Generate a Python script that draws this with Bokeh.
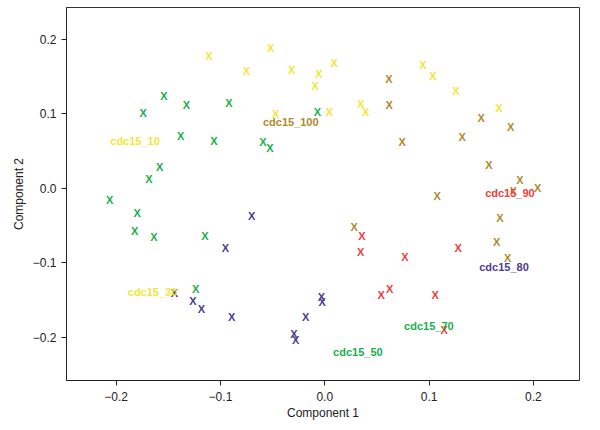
from bokeh.plotting import figure
from bokeh.models import ColumnDataSource, FixedTicker, Range1d
from bokeh.core.properties import value
from bokeh.embed import file_html
from bokeh.resources import INLINE

# ---- data ----
yellow_x = [-0.111, -0.0518, -0.0751, -0.0317, -0.0055, -0.0091, -0.047, 0.0089, 0.0045, 0.0345, 0.0391, 0.094, 0.1036, 0.1257, 0.167]
yellow_y = [0.178, 0.1885, 0.1568, 0.1582, 0.1537, 0.1378, 0.1003, 0.1679, 0.102, 0.1136, 0.1024, 0.1652, 0.1511, 0.131, 0.1078]

green_x = [-0.1542, -0.174, -0.1327, -0.0918, -0.007, -0.1382, -0.1062, -0.0592, -0.0525, -0.1583, -0.1686, -0.2063, -0.1798, -0.1823, -0.1638, -0.1149, -0.1238]
green_y = [0.1234, 0.1016, 0.1123, 0.115, 0.1023, 0.0703, 0.0632, 0.0619, 0.0535, 0.0289, 0.0124, -0.0163, -0.0337, -0.0571, -0.0651, -0.0638, -0.1346]

purple_x = [-0.0701, -0.0953, -0.1442, -0.1264, -0.1183, -0.0893, -0.0182, -0.0295, -0.0278, -0.0032, -0.0026]
purple_y = [-0.0377, -0.0794, -0.14, -0.1511, -0.1623, -0.1725, -0.1725, -0.1952, -0.2037, -0.1457, -0.1529]

red_x = [0.0355, 0.0343, 0.0768, 0.1279, 0.054, 0.0621, 0.1059, 0.1145]
red_y = [-0.0638, -0.0852, -0.0922, -0.0798, -0.1426, -0.1346, -0.1426, -0.1894]

gold_x = [0.0614, 0.0617, 0.0742, 0.1318, 0.15, 0.1782, 0.1574, 0.1871, 0.2041, 0.1807, 0.1078, 0.1679, 0.1648, 0.1753, 0.0281]
gold_y = [0.1471, 0.1123, 0.0623, 0.0686, 0.094, 0.0816, 0.0307, 0.0115, 0.0011, -0.004, -0.0099, -0.0404, -0.0718, -0.0936, -0.0513]

label_text = ["cdc15_10", "cdc15_100", "cdc15_30", "cdc15_50", "cdc15_70", "cdc15_80", "cdc15_90"]
label_x = [-0.1819, -0.0326, -0.1651, 0.0317, 0.0998, 0.1718, 0.1775]
label_y = [0.0636, 0.089, -0.1396, -0.2198, -0.1841, -0.1056, -0.0067]
label_color = ["#f2e63a", "#b08a2e", "#f2e63a", "#18b04c", "#18b04c", "#4b3b96", "#ee3d3d"]

tick_values = [-0.2, -0.1, 0.0, 0.1, 0.2]
tick_labels = ["\u22120.2", "\u22120.1", "0.0", "0.1", "0.2"]

series = [
    (yellow_x, yellow_y, "#f2e63a"),
    (green_x, green_y, "#18b04c"),
    (purple_x, purple_y, "#4b3b96"),
    (red_x, red_y, "#ee3d3d"),
    (gold_x, gold_y, "#b08a2e"),
]

FONT = "Liberation Sans"

p = figure(
    frame_width=513, frame_height=373,
    x_range=Range1d(-0.2476, 0.2442), y_range=Range1d(-0.2576, 0.2424),
    output_backend="svg", toolbar_location=None,
    min_border_left=66, min_border_right=5, min_border_top=7, min_border_bottom=10,
)
p.background_fill_color = "white"
p.border_fill_color = "white"
p.outline_line_color = "#333333"
p.outline_line_width = 1
p.xgrid.visible = False
p.ygrid.visible = False

for xs, ys, col in series:
    src = ColumnDataSource(dict(x=xs, y=ys, t=["X"] * len(xs)))
    p.text(x="x", y="y", text="t", source=src, text_color=col,
           text_font=value(FONT), text_font_size="11px", text_font_style="bold",
           text_align="center", text_baseline="middle")

lsrc = ColumnDataSource(dict(x=label_x, y=label_y, t=label_text, c=label_color))
p.text(x="x", y="y", text="t", source=lsrc, text_color="c",
       text_font=value(FONT), text_font_size="11px", text_font_style="bold",
       text_align="center", text_baseline="middle")

for ax in (p.xaxis[0], p.yaxis[0]):
    ax.ticker = FixedTicker(ticks=tick_values)
    ax.major_label_overrides = {v: s for v, s in zip(tick_values, tick_labels)}
    ax.minor_tick_line_color = None
    ax.major_tick_out = 5
    ax.major_tick_in = 0
    ax.axis_line_color = "#222222"
    ax.major_tick_line_color = "#222222"
    ax.major_label_text_font = FONT
    ax.major_label_text_font_size = "12px"
    ax.major_label_text_color = "#222222"
    ax.axis_label_text_font = FONT
    ax.axis_label_text_font_size = "12px"
    ax.axis_label_text_font_style = "normal"
    ax.axis_label_text_color = "#222222"

p.xaxis.axis_label = "Component 1"
p.yaxis.axis_label = "Component 2"
p.xaxis.major_label_standoff = 6
p.xaxis.axis_label_standoff = 2
p.yaxis.major_label_standoff = 5
p.yaxis.axis_label_standoff = 4
p.yaxis.major_label_orientation = "horizontal"

open("out.html", "w").write(file_html(p, INLINE))
